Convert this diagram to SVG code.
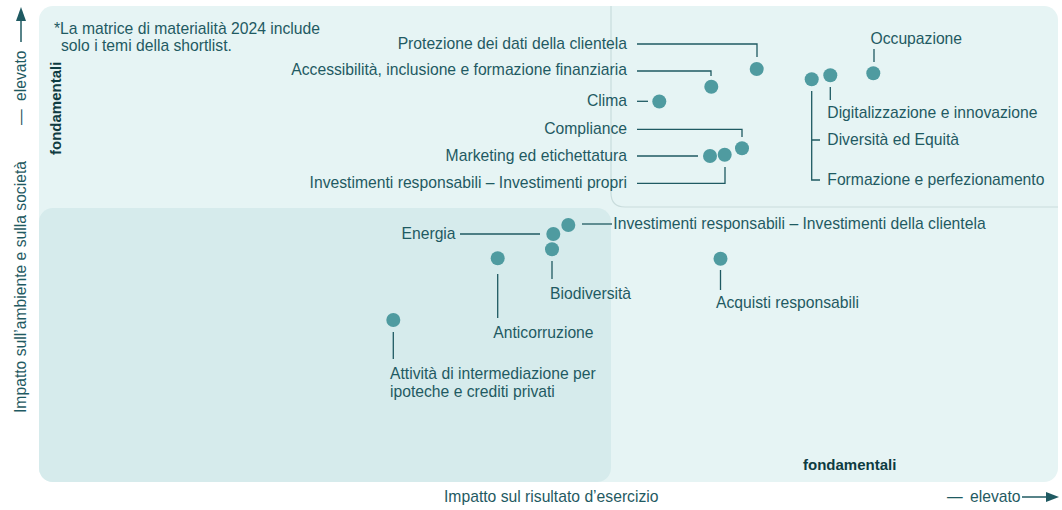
<svg xmlns="http://www.w3.org/2000/svg" width="1062" height="510" viewBox="0 0 1062 510">
<style>
text{font-family:"Liberation Sans",Arial,sans-serif;font-size:15.7px;fill:#1f5a62}
.b{font-weight:bold;font-size:15px;fill:#0e3b41}
.e{text-anchor:end}
.ln{fill:none;stroke:#1f5a62;stroke-width:1.3}
.dot{fill:#4f9ba0}
</style>
<rect width="1062" height="510" fill="#ffffff"/>
<g id="panel">
<rect x="39" y="6" width="1019" height="476" rx="14" fill="#e6f4f4"/>
<rect x="39" y="208" width="572" height="274" rx="14" fill="#d6ebec"/>
<path d="M611,6 V193 Q611,207 625,207 H1058" fill="none" stroke="#c9dcdc" stroke-width="1.2"/>
<text class="b" x="803" y="470">fondamentali</text>
<text class="b" transform="translate(61,155) rotate(-90)">fondamentali</text>
<text x="54" y="34">*La matrice di materialità 2024 include</text>
<text x="61" y="51">solo i temi della shortlist.</text>
</g>
<g id="axes">
<text x="444" y="502">Impatto sul risultato d’esercizio</text>
<text y="502"><tspan x="947">—</tspan><tspan x="970">elevato</tspan></text>
<line x1="1022" y1="497" x2="1047" y2="497" stroke="#1f5a62" stroke-width="1.5"/>
<polygon points="1059,497 1046,492 1046,502" fill="#1f5a62"/>
<text transform="translate(26,413) rotate(-90)">Impatto sull’ambiente e sulla società</text>
<text transform="translate(26,0) rotate(-90)"><tspan x="-125">—</tspan><tspan x="-101">elevato</tspan></text>
<line x1="21" y1="42" x2="21" y2="20" stroke="#1f5a62" stroke-width="1.5"/>
<polygon points="21,7 16,21 26,21" fill="#1f5a62"/>
</g>
<g id="connectors">
<path class="ln" d="M637,44 H757 V57"/>
<path class="ln" d="M637,71 H711 V76"/>
<path class="ln" d="M637,101.3 H648"/>
<path class="ln" d="M637,129.3 H742 V137"/>
<path class="ln" d="M637,156 H698"/>
<path class="ln" d="M637,183.3 H725 V167"/>
<path class="ln" d="M874,49 V62"/>
<path class="ln" d="M830.3,87 V100"/>
<path class="ln" d="M811.7,91 V180 H820 M811.7,140 H820"/>
<path class="ln" d="M582,224 H612"/>
<path class="ln" d="M460,234 H540"/>
<path class="ln" d="M552,261 V279"/>
<path class="ln" d="M497.7,274 V318"/>
<path class="ln" d="M393.3,332 V359"/>
<path class="ln" d="M720.5,270 V290"/>
</g>
<g id="n-protezione"><circle class="dot" cx="756.7" cy="69" r="7"/><text class="e" x="627" y="48.7">Protezione dei dati della clientela</text></g>
<g id="n-accessibilita"><circle class="dot" cx="711.3" cy="86.7" r="7"/><text class="e" x="627" y="75.4">Accessibilità, inclusione e formazione finanziaria</text></g>
<g id="n-clima"><circle class="dot" cx="659.3" cy="101.5" r="7"/><text class="e" x="627" y="106">Clima</text></g>
<g id="n-compliance"><circle class="dot" cx="742" cy="148.3" r="7"/><text class="e" x="627" y="134">Compliance</text></g>
<g id="n-marketing"><circle class="dot" cx="710" cy="156" r="7"/><text class="e" x="627" y="160.7">Marketing ed etichettatura</text></g>
<g id="n-invpropri"><circle class="dot" cx="724.7" cy="154.7" r="7"/><text class="e" x="627" y="188">Investimenti responsabili – Investimenti propri</text></g>
<g id="n-occupazione"><circle class="dot" cx="873.3" cy="73.3" r="7"/><text x="870.5" y="44">Occupazione</text></g>
<g id="n-digitalizzazione"><circle class="dot" cx="830.3" cy="75.3" r="7"/><text x="827.3" y="118.3">Digitalizzazione e innovazione</text></g>
<g id="n-diversita-formazione"><circle class="dot" cx="811.7" cy="79.3" r="7"/><text x="827.3" y="144.7">Diversità ed Equità</text><text x="827.3" y="184.7">Formazione e perfezionamento</text></g>
<g id="n-invclientela"><circle class="dot" cx="568.3" cy="225" r="7"/><text x="613.3" y="228.7">Investimenti responsabili – Investimenti della clientela</text></g>
<g id="n-energia"><circle class="dot" cx="553.3" cy="234" r="7"/><text x="401.5" y="238.7">Energia</text></g>
<g id="n-biodiversita"><circle class="dot" cx="552" cy="249.3" r="7"/><text x="550" y="299">Biodiversità</text></g>
<g id="n-anticorruzione"><circle class="dot" cx="497.7" cy="258.3" r="7"/><text x="493.3" y="337.7">Anticorruzione</text></g>
<g id="n-attivita"><circle class="dot" cx="393.3" cy="320" r="7"/><text x="390" y="378.5">Attività di intermediazione per</text><text x="390" y="397">ipoteche e crediti privati</text></g>
<g id="n-acquisti"><circle class="dot" cx="720.5" cy="258.7" r="7"/><text x="716" y="307.7">Acquisti responsabili</text></g>
</svg>
